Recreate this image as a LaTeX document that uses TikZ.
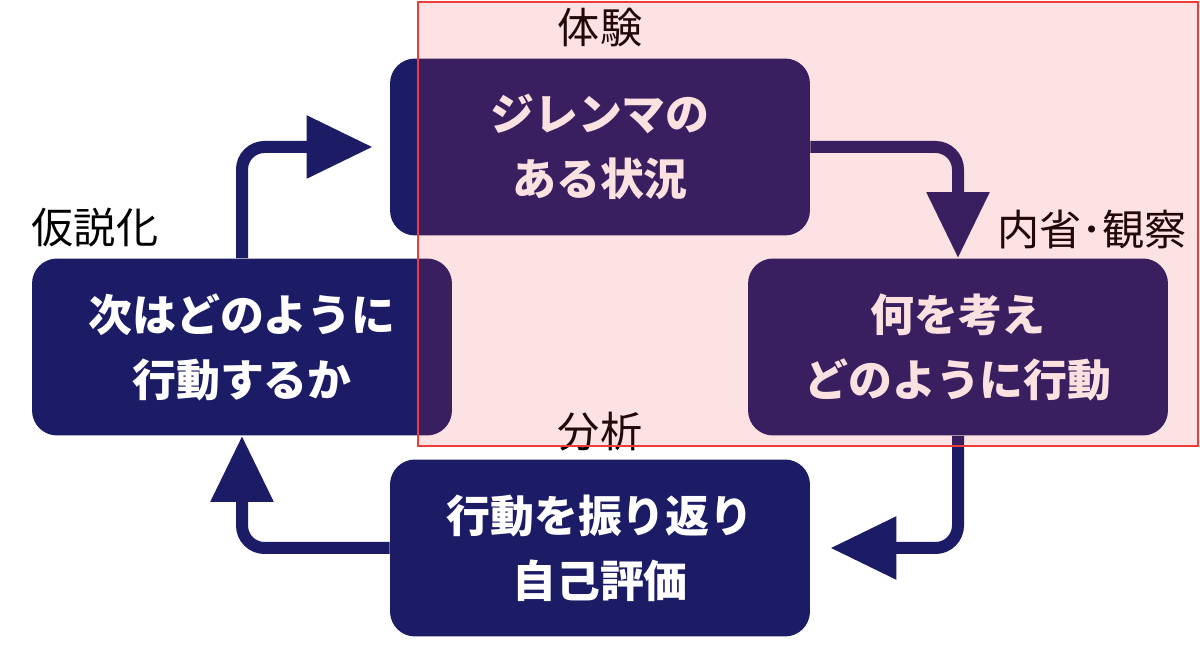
\documentclass[tikz,border=0pt]{standalone}
\usepackage{fontspec}
\usepackage{xcolor}
\usepackage{tikz}
\usetikzlibrary{positioning, calc, arrows.meta}
\newfontfamily\cjk{Noto Sans CJK JP}
\definecolor{stageBlue}{RGB}{27,27,102}
\definecolor{focusRed}{RGB}{235,60,60}
\tikzstyle{stage}=[rectangle, rounded corners=0.5cm, fill=stageBlue, text=white, minimum width=8.4cm, minimum height=3.54cm, align=center, font=\cjk\bfseries\fontsize{25}{37}\selectfont]
\tikzstyle{stageLabel}=[font=\cjk\fontsize{24}{28}\selectfont, inner sep=0pt]
\tikzstyle{cycleArrow}=[-{Triangle[length=1.32cm, width=1.2cm]}, line width=0.24cm, draw=stageBlue, rounded corners=0.45cm]
\tikzstyle{focusArea}=[draw=focusRed, line width=1pt, fill=focusRed, fill opacity=0.15]

\begin{document}
\begin{tikzpicture}[x=0.02cm, y=0.02cm]
      \useasboundingbox (0,0) rectangle (1200,659);

      % the four stages of the cycle
      \node[stage] (top) at (600,512) {ジレンマの\\ある状況};
      \node[stage] (right) at (958,312) {何を考え\\どのように行動};
      \node[stage] (bottom) at (600,111) {行動を振り返り\\自己評価};
      \node[stage] (left) at (242,312) {次はどのように\\行動するか};

      \node[stageLabel] (experience) at (600,631) {体験};
      \node[stageLabel] (reflection) at (1092,429) {内省･観察};
      \node[stageLabel] (analysis) at (600,227) {分析};
      \node[stageLabel] (hypothesis) at (95,431) {仮説化};

      \draw[cycleArrow] (top.east) -| (right.north);
      \draw[cycleArrow] (right.south) |- ($(bottom.east)+(20,0)$);
      \draw[cycleArrow] (bottom.west) -| (left.south);
      \draw[cycleArrow] (left.north) |- ($(top.west)-(17,0)$);

      % highlighted part
      \draw[focusArea] (418,657) rectangle (1198,213);
    \end{tikzpicture}
\end{document}
